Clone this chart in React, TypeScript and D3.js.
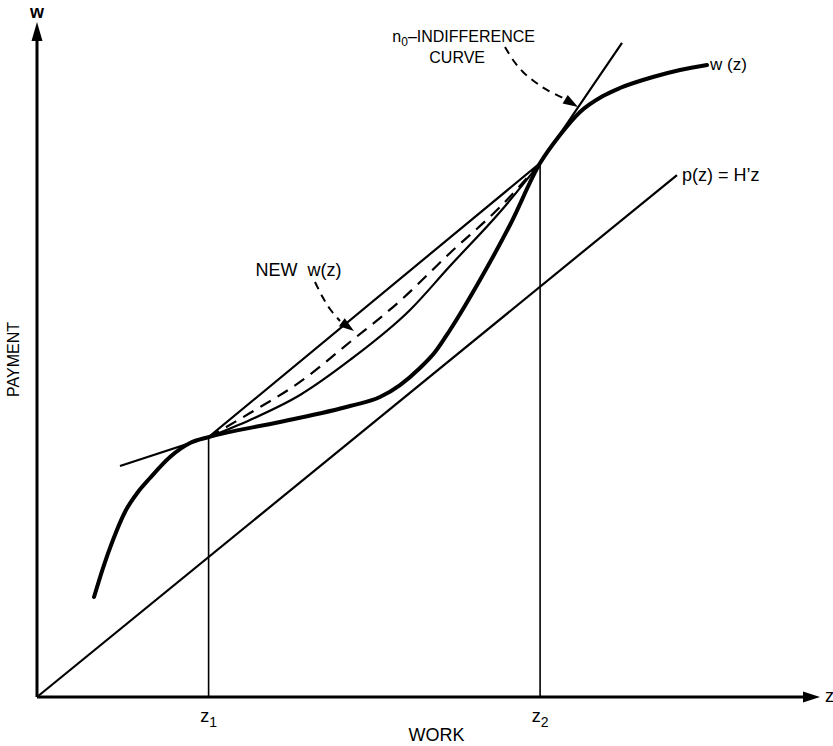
import React from "react";
import * as d3 from "d3";

// ---------- data (model units: work z 0–100, payment w 0–100) ----------
const zMarks = [22.0, 64.5];
const zMarkLabels = ["1", "2"];

const wzCurve: [number, number][] = [
  [7.31, 14.81], [8.46, 19.11], [9.74, 23.26], [11.28, 27.41], [12.95, 30.37],
  [14.49, 32.44], [17.05, 35.56], [19.62, 37.63], [22.0, 38.5], [31.15, 40.74],
  [40.13, 43.11], [43.97, 44.44], [46.54, 46.22], [49.1, 48.74], [51.03, 51.11],
  [52.95, 54.37], [56.79, 61.78], [60.64, 69.93], [64.5, 79.1], [67.05, 83.26],
  [69.62, 86.67], [72.56, 89.04], [74.74, 90.22], [78.97, 91.85], [82.44, 92.89],
  [85.9, 93.63],
];

const newWz: [number, number][] = [
  [22.0, 38.5], [27.31, 42.07], [33.72, 46.67], [40.13, 52.59], [46.54, 58.67],
  [52.95, 65.78], [59.36, 72.59], [64.5, 79.1],
];

const thinWz: [number, number][] = [
  [22.0, 38.5], [27.31, 41.04], [33.72, 44.74], [40.13, 49.93], [47.82, 57.33],
  [52.95, 63.85], [59.36, 71.85], [64.5, 79.1],
];

const indifference: [number, number][] = [
  [10.64, 34.22], [22.0, 38.5], [64.5, 79.1], [75.0, 96.89],
];

const payLine: [number, number][] = [[0, 0], [82.05, 77.33]];

// annotations (model units)
const indifArrow: [number, number][] = [
  [60.0, 96.3], [61.03, 94.37], [62.31, 92.59], [63.85, 91.11], [65.38, 89.93],
  [67.44, 88.74], [69.36, 87.41],
];
const newArrow: [number, number][] = [
  [35.64, 61.48], [36.54, 59.41], [37.56, 57.48], [38.85, 55.7], [40.64, 54.22],
];
const newLabelPos: [number, number] = [28.0, 62.37];
const indifLabelPos: [number, number] = [63.85, 97.04];
const curveLabelPos: [number, number] = [57.44, 93.93];
const wzLabelPos: [number, number] = [86.28, 92.89];
const payLabelPos: [number, number] = [82.69, 76.44];

const W = 833;
const H = 746;
const FONT = "'Liberation Sans', Arial, Helvetica, sans-serif";

export default function App() {
  const x = d3.scaleLinear().domain([0, 100]).range([37, 817]);
  const y = d3.scaleLinear().domain([0, 100]).range([697, 22]);

  const smooth = d3
    .line<[number, number]>()
    .x((d) => x(d[0]))
    .y((d) => y(d[1]))
    .curve(d3.curveMonotoneX);
  const straight = d3
    .line<[number, number]>()
    .x((d) => x(d[0]))
    .y((d) => y(d[1]));
  const cr = d3
    .line<[number, number]>()
    .x((d) => x(d[0]))
    .y((d) => y(d[1]))
    .curve(d3.curveCatmullRom);

  const arrowHead = (pts: [number, number][], len = 15, wid = 10) => {
    const n = pts.length;
    const tx = x(pts[n - 1][0]);
    const ty = y(pts[n - 1][1]);
    const px = x(pts[n - 2][0]);
    const py = y(pts[n - 2][1]);
    const a = Math.atan2(ty - py, tx - px);
    const bx = tx - len * Math.cos(a);
    const by = ty - len * Math.sin(a);
    const nx = -Math.sin(a) * (wid / 2);
    const ny = Math.cos(a) * (wid / 2);
    return `M${tx},${ty}L${bx + nx},${by + ny}L${bx - nx},${by - ny}Z`;
  };
  const trimmed = (pts: [number, number][]) => pts.slice(0, pts.length - 1);

  const x0 = x(0);
  const y0 = y(0);
  const xEnd = x.range()[1] + 3;
  const yEnd = y.range()[1];

  return (
    <svg width={W} height={H} style={{ position: "absolute", left: 0, top: 0, background: "#fff" }}>
      <rect width={W} height={H} fill="#fff" />
      {/* axes */}
      <line x1={x0} y1={y0} x2={x0} y2={yEnd + 14} stroke="#000" strokeWidth={3} />
      <path d={`M${x0},${yEnd}L${x0 - 5.5},${yEnd + 19}L${x0 + 5.5},${yEnd + 19}Z`} fill="#000" />
      <line x1={x0} y1={y0} x2={xEnd - 14} y2={y0} stroke="#000" strokeWidth={3} />
      <path d={`M${xEnd},${y0}L${xEnd - 17},${y0 - 5.5}L${xEnd - 17},${y0 + 5.5}Z`} fill="#000" />

      {/* p(z) = H'z */}
      <path d={straight(payLine)!} fill="none" stroke="#000" strokeWidth={2.2} />

      {/* vertical guides */}
      {zMarks.map((z, i) => {
        const yv = i === 0 ? newWz[0][1] : newWz[newWz.length - 1][1];
        return <line key={i} x1={x(z)} x2={x(z)} y1={y0} y2={y(yv)} stroke="#000" strokeWidth={1.6} />;
      })}

      {/* indifference curve */}
      <path d={straight(indifference)!} fill="none" stroke="#000" strokeWidth={2.2} />
      {/* thin curve */}
      <path d={smooth(thinWz)!} fill="none" stroke="#000" strokeWidth={2.2} />
      {/* new w(z) dashed */}
      <path d={smooth(newWz)!} fill="none" stroke="#000" strokeWidth={2.2} strokeDasharray="12 8" />
      {/* w(z) */}
      <path d={smooth(wzCurve)!} fill="none" stroke="#000" strokeWidth={4} strokeLinecap="round" />

      {/* annotation arrows */}
      <path d={cr(trimmed(indifArrow))!} fill="none" stroke="#000" strokeWidth={2} strokeDasharray="8 6" />
      <path d={arrowHead(indifArrow)} fill="#000" />
      <path d={cr(trimmed(newArrow))!} fill="none" stroke="#000" strokeWidth={2} strokeDasharray="8 6" />
      <path d={arrowHead(newArrow)} fill="#000" />

      {/* labels */}
      <g fontFamily={FONT} fill="#000">
        <text x={x0} y={yEnd - 4} fontSize={18} textAnchor="middle" fontWeight="bold">w</text>
        <text x={xEnd + 5} y={y0 + 5} fontSize={18}>z</text>
        {zMarks.map((z, i) => (
          <text key={i} x={x(z)} y={y0 + 25} fontSize={18} textAnchor="middle">
            z<tspan fontSize={14} dy={5}>{zMarkLabels[i]}</tspan>
          </text>
        ))}
        <text x={(x0 + xEnd) / 2 + 8} y={y0 + 44} fontSize={18} textAnchor="middle">WORK</text>
        <text transform={`translate(19,${(y0 + yEnd) / 2}) rotate(-90)`} fontSize={16} textAnchor="middle">PAYMENT</text>
        <text x={x(newLabelPos[0])} y={y(newLabelPos[1])} fontSize={18}>NEW&#160;&#160;w(z)</text>
        <text x={x(indifLabelPos[0])} y={y(indifLabelPos[1])} fontSize={16} textAnchor="end">
          n<tspan fontSize={12} dy={4}>0</tspan><tspan dy={-4}>–INDIFFERENCE</tspan>
        </text>
        <text x={x(curveLabelPos[0])} y={y(curveLabelPos[1])} fontSize={16} textAnchor="end">CURVE</text>
        <text x={x(wzLabelPos[0])} y={y(wzLabelPos[1])} fontSize={17}>w (z)</text>
        <text x={x(payLabelPos[0])} y={y(payLabelPos[1])} fontSize={18}>p(z)&#160;=&#160;H’z</text>
      </g>
    </svg>
  );
}
